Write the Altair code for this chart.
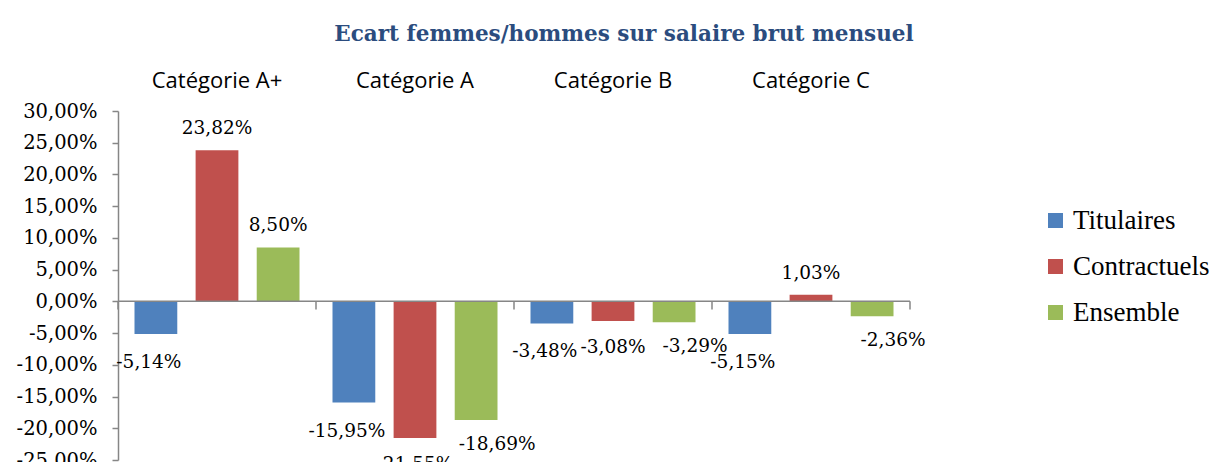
import altair as alt
import pandas as pd

categories = ["Catégorie A+", "Catégorie A", "Catégorie B", "Catégorie C"]
series = ["Titulaires", "Contractuels", "Ensemble"]
titulaires = [-5.14, -15.95, -3.48, -5.15]
contractuels = [23.82, -21.55, -3.08, 1.03]
ensemble = [8.50, -18.69, -3.29, -2.36]
colors = ["#4F81BD", "#C0504D", "#9BBB59"]
y_ticks = [-25, -20, -15, -10, -5, 0, 5, 10, 15, 20, 25, 30]

rows = []
for s, vals in zip(series, [titulaires, contractuels, ensemble]):
    for c, v in zip(categories, vals):
        rows.append({"cat": c, "series": s, "v": v / 100.0})
df = pd.DataFrame(rows)

SERIF = "DejaVu Serif"
SANS = "Open Sans"
GRAY = "#868686"

x_axis = alt.Axis(orient="top", title=None, domain=False, ticks=False,
                  labelFont=SANS, labelFontSize=22, labelPadding=19,
                  labelColor="black", labelAngle=0)
x_scale = alt.Scale(paddingInner=0, paddingOuter=0)
xo = alt.XOffset("series:N", sort=series,
                 scale=alt.Scale(paddingInner=0.3, paddingOuter=0.27))
y_axis = alt.Axis(values=[t / 100.0 for t in y_ticks], format=".2%",
                  title=None, grid=False, domainColor=GRAY,
                  domainWidth=1.5, tickColor=GRAY, tickWidth=1.5,
                  tickSize=6, labelFont=SERIF, labelFontSize=19.5,
                  labelColor="black", labelPadding=15,
                  labelOverlap=False)
y_scale = alt.Scale(domain=[-0.25, 0.30], nice=False)
y_enc = alt.Y("v:Q", scale=y_scale, axis=y_axis)

x_enc = alt.X("cat:N", sort=categories, scale=x_scale, axis=x_axis)

bars = alt.Chart(df).mark_bar().encode(
    x=x_enc,
    xOffset=xo,
    y=y_enc,
    color=alt.Color("series:N", sort=series,
                    scale=alt.Scale(domain=series, range=colors),
                    legend=alt.Legend(title=None, orient="none", legendX=924,
                                      legendY=96, symbolType="square",
                                      symbolSize=225, symbolStrokeWidth=0,
                                      labelFont="Liberation Serif", labelFontSize=27,
                                      labelColor="black", rowPadding=18,
                                      labelOffset=4)),
)

pos_labels = alt.Chart(df).transform_filter("datum.v >= 0").mark_text(
    font=SERIF, fontSize=18.5, color="black", dy=-22, baseline="middle"
).encode(x=x_enc, xOffset=xo, y=y_enc, text=alt.Text("v:Q", format=".2%"))

neg_style = {"Titulaires": (-7, 28), "Contractuels": (0, 26), "Ensemble": (21, 24)}
neg_layers = []
for s in series:
    ddx, ddy = neg_style[s]
    neg_layers.append(
        alt.Chart(df).transform_filter(
            f"datum.v < 0 && datum.series == '{s}'"
        ).mark_text(
            font=SERIF, fontSize=18.5, color="black", dy=ddy, dx=ddx,
            baseline="middle"
        ).encode(x=x_enc, xOffset=xo, y=y_enc, text=alt.Text("v:Q", format=".2%"))
    )

zero_df = pd.DataFrame({"v": [0.0], "v2": [-0.013]})
zero_line = alt.Chart(zero_df).mark_rule(color=GRAY, strokeWidth=1.5).encode(
    y=y_enc, x=alt.value(0), x2=alt.value(792))

cat_df = pd.DataFrame({"cat": categories, "v": [0.0] * 4, "v2": [-0.013] * 4})
sep_ticks = alt.Chart(cat_df).mark_rule(color=GRAY, strokeWidth=1.5).encode(
    x=alt.X("cat:N", sort=categories, scale=x_scale, axis=x_axis, bandPosition=0),
    y=y_enc, y2="v2:Q")
end_tick = alt.Chart(zero_df).mark_rule(color=GRAY, strokeWidth=1.5).encode(
    x=alt.value(792), y=y_enc, y2="v2:Q")

chart = alt.layer(bars, zero_line, sep_ticks, end_tick, pos_labels, *neg_layers).properties(
    width=792, height=349,
    padding={"left": 110, "top": 103, "right": 303, "bottom": 2},
    autosize=alt.AutoSizeParams(type="none"),
    title=alt.TitleParams("Ecart femmes/hommes  sur salaire brut mensuel",
                          font="DejaVu Serif", fontSize=21.5, fontWeight="bold",
                          color="#2B4C7E", anchor="middle", dx=110, offset=24),
).configure(
    locale={"number": {"decimal": ",", "thousands": " ", "grouping": [3],
                       "currency": ["", " €"], "minus": "-"}}
).configure_view(stroke=None).configure_axisY(labelOverlap=False)

chart.save("out.html", embed_options={"renderer": "svg", "actions": False})
